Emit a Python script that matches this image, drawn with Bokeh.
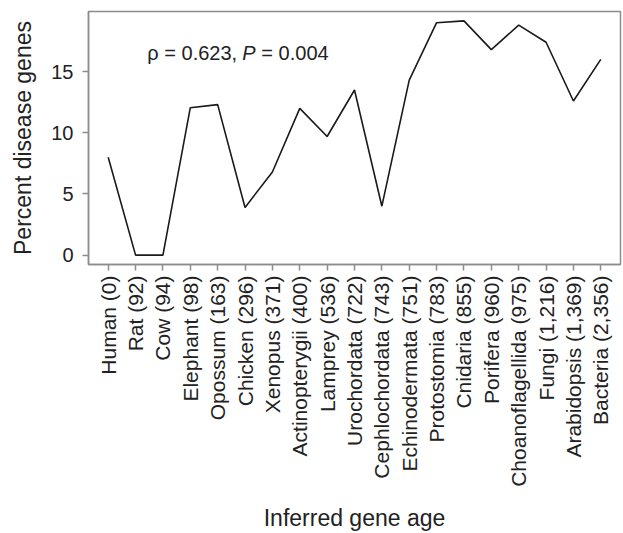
import math
from bokeh.plotting import figure
from bokeh.models import Range1d, FixedTicker, Label
from bokeh.embed import file_html
from bokeh.resources import INLINE

categories = ["Human (0)", "Rat (92)", "Cow (94)", "Elephant (98)", "Opossum (163)",
              "Chicken (296)", "Xenopus (371)", "Actinopterygii (400)", "Lamprey (536)",
              "Urochordata (722)", "Cephlochordata (743)", "Echinodermata (751)",
              "Protostomia (783)", "Cnidaria (855)", "Porifera (960)",
              "Choanoflagellida (975)", "Fungi (1,216)", "Arabidopsis (1,369)",
              "Bacteria (2,356)"]
percent_disease = [8.0, 0.0, 0.0, 12.05, 12.3, 3.9, 6.8, 12.0, 9.7, 13.5, 4.0,
                   14.3, 19.0, 19.15, 16.8, 18.8, 17.4, 12.6, 16.0]
y_ticks = [0, 5, 10, 15]
annotation = ("\u03c1 = 0.623,", "P", "= 0.004")

FONT = "Liberation Sans"
TXT = "#222222"
GREY = "#8c8c8c"

n = len(categories)
xs = list(range(1, n + 1))
xpad = 0.04 * (n - 1)
ymin, ymax = min(percent_disease), max(percent_disease)
ypad = 0.04 * (ymax - ymin)

p = figure(width=623, height=533, output_backend="svg", toolbar_location=None,
           x_range=Range1d(1 - xpad, n + xpad),
           y_range=Range1d(ymin - ypad, ymax + ypad),
           min_border_left=88, min_border_right=3, min_border_top=11,
           min_border_bottom=268)
p.background_fill_color = "white"
p.border_fill_color = "white"
p.outline_line_color = GREY
p.outline_line_width = 1.5
p.grid.visible = False

p.line(xs, percent_disease, line_color="#1a1a1a", line_width=1.6)

xa = p.xaxis[0]
xa.ticker = FixedTicker(ticks=xs)
xa.major_label_overrides = {x: c for x, c in zip(xs, categories)}
xa.major_label_orientation = math.pi / 2
xa.axis_label = "Inferred gene age"

ya = p.yaxis[0]
ya.ticker = FixedTicker(ticks=y_ticks)
ya.axis_label = "Percent disease genes"

for ax in (xa, ya):
    ax.axis_line_color = GREY
    ax.axis_line_width = 1.5
    ax.major_tick_line_color = GREY
    ax.major_tick_line_width = 1.5
    ax.major_tick_out = 6
    ax.major_tick_in = 0
    ax.minor_tick_line_color = None
    ax.major_label_text_font = FONT
    ax.major_label_text_color = TXT
    ax.axis_label_text_font = FONT
    ax.axis_label_text_color = TXT
    ax.axis_label_text_font_style = "normal"
    ax.axis_label_text_font_size = "23px"
    ax.major_label_standoff = 9

xa.major_label_standoff = 5
xa.major_label_text_font_size = "21px"
ya.major_label_text_font_size = "20px"
xa.axis_label_standoff = 15
ya.axis_label_standoff = 12

ax_x, ax_y = 2.43, 16.55
common = dict(x=ax_x, y=ax_y, text_font=FONT, text_font_size="20px",
              text_color=TXT, text_baseline="middle", text_align="left")
p.add_layout(Label(text=annotation[0], **common))
p.add_layout(Label(text=annotation[1], x_offset=95, text_font_style="italic", **common))
p.add_layout(Label(text=annotation[2], x_offset=114, **common))

open("out.html", "w").write(file_html(p, INLINE))
